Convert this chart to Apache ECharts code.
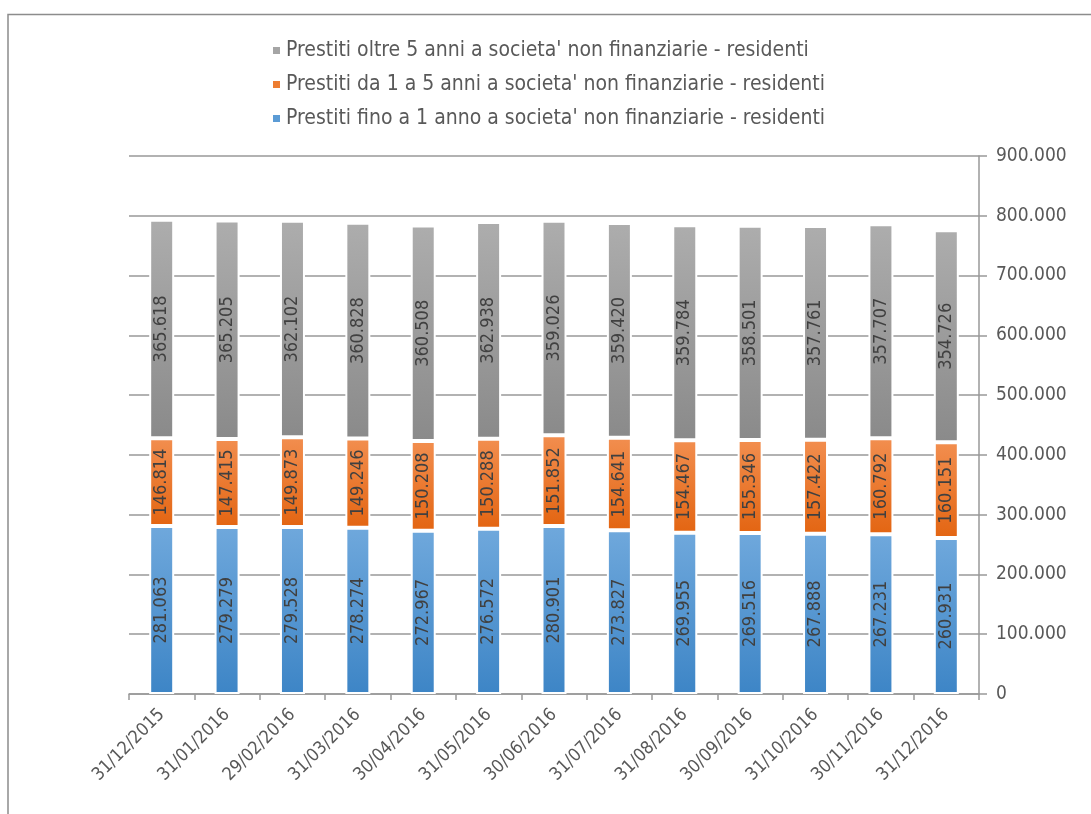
<!DOCTYPE html>
<html>
<head>
<meta charset="utf-8">
<script src="https://cdn.jsdelivr.net/npm/echarts@6/dist/echarts.min.js"></script>
<style>
html,body{margin:0;padding:0;background:#fff;}
#chart{width:1091px;height:814px;}
</style>
</head>
<body>
<div id="chart"></div>
<script>
var categories = ['31/12/2015','31/01/2016','29/02/2016','31/03/2016','30/04/2016','31/05/2016','30/06/2016','31/07/2016','31/08/2016','30/09/2016','31/10/2016','30/11/2016','31/12/2016'];
var fino1 = [281063,279279,279528,278274,272967,276572,280901,273827,269955,269516,267888,267231,260931];
var da1a5 = [146814,147415,149873,149246,150208,150288,151852,154641,154467,155346,157422,160792,160151];
var oltre5 = [365618,365205,362102,360828,360508,362938,359026,359420,359784,358501,357761,357707,354726];
var nomi = ["Prestiti fino a 1 anno a societa' non finanziarie - residenti",
            "Prestiti da 1 a 5 anni a societa' non finanziarie - residenti",
            "Prestiti oltre 5 anni a societa' non finanziarie - residenti"];

var FONT = "'Liberation Sans Narrow','DejaVu Sans Condensed','Roboto',sans-serif";

// numeri con punto delle migliaia
function fmt(v){
	return String(Math.round(v)).replace(/\B(?=(\d{3})+(?!\d))/g, '.');
}
function grad(top, bottom){
	return new echarts.graphic.LinearGradient(0,0,0,1,[{offset:0,color:top},{offset:1,color:bottom}]);
}
function serie(name, data, top, bottom){
	return {
		name:name,
		type:'bar',
		stack:'tot',
		barWidth:25,
		data:data,
		itemStyle:{color:grad(top,bottom),borderColor:'#fff',borderWidth:2},
		label:{
			show:true,
			position:'inside',
			rotate:90,
			formatter:function(p){return fmt(p.value);},
			color:'#404040',
			fontFamily:FONT,
			fontSize:18
		}
	};
}

var chart = echarts.init(document.getElementById('chart'));
var option = {
	animation:false,
	legend:{
		orient:'vertical',
		left:266,
		top:35,
		itemWidth:9,
		itemHeight:9,
		itemGap:13,
		icon:'rect',
		textStyle:{color:'#595959',fontSize:21,fontFamily:FONT,padding:[0,0,0,0]},
		data:[
			{name:nomi[2],itemStyle:{color:'#a5a5a5'}},
			{name:nomi[1],itemStyle:{color:'#ed7d31'}},
			{name:nomi[0],itemStyle:{color:'#5b9bd5'}}
		]
	},
	grid:{left:129,right:112,top:156,bottom:120,containLabel:false},
	xAxis:{
		type:'category',
		data:categories,
		axisLine:{lineStyle:{color:'#999',width:1.5}},
		axisTick:{show:true,alignWithLabel:false,length:6,lineStyle:{color:'#999',width:1.5}},
		axisLabel:{rotate:45,color:'#595959',fontSize:18,fontFamily:FONT,margin:18}
	},
	yAxis:{
		type:'value',
		position:'right',
		min:0,
		max:900000,
		interval:100000,
		axisLine:{show:true,lineStyle:{color:'#999',width:1.5}},
		axisTick:{show:true,inside:false,length:8,lineStyle:{color:'#999',width:1.5}},
		splitLine:{lineStyle:{color:'#999',width:1.5}},
		axisLabel:{color:'#595959',fontSize:19,fontFamily:FONT,margin:17,formatter:function(v){return fmt(v);}}
	},
	graphic:[{
		type:'polyline',
		shape:{points:[[8,814],[8,14.5],[1091,14.5]]},
		style:{stroke:'#8c8c8c',lineWidth:1.5,fill:null},
		silent:true
	}],
	series:[
		serie(nomi[0], fino1, '#6fa8dc', '#3d85c6'),
		serie(nomi[1], da1a5, '#f28e4f', '#e36512'),
		serie(nomi[2], oltre5, '#adadad', '#8a8a8a')
	]
};
chart.setOption(option);
</script>
</body>
</html>
